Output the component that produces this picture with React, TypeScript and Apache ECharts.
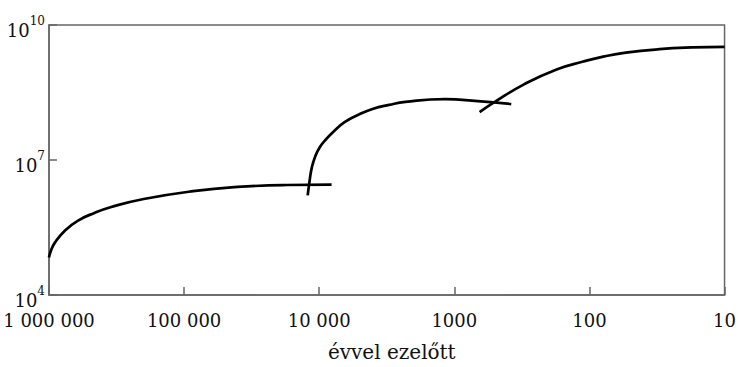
import React, { useEffect, useRef } from "react";
import * as echarts from "echarts";

// years before present, population
const curve1Years = [1000000, 966000, 904000, 764000, 614000, 461000, 346000, 199000, 85700, 40200, 17300, 8100];
const curve1Pop = [6.8e4, 9.8e4, 1.46e5, 2.68e5, 4.45e5, 6.67e5, 9.04e5, 1.36e6, 2.03e6, 2.52e6, 2.78e6, 2.83e6];

const curve2Years = [12170, 11800, 11380, 10740, 9880, 8830, 7670, 6490, 5180, 4030, 3040, 2300, 1170, 672, 379];
const curve2Pop = [1.63e6, 3.32e6, 6.5e6, 1.17e7, 1.95e7, 2.97e7, 4.52e7, 6.92e7, 1.0e8, 1.36e8, 1.68e8, 1.96e8, 2.25e8, 2.03e8, 1.75e8];

const curve3Years = [650, 505, 305, 175, 111, 79, 53.8, 30.3, 17.4, 10];
const curve3Pop = [1.16e8, 1.93e8, 4.8e8, 1.03e9, 1.54e9, 1.98e9, 2.43e9, 2.9e9, 3.17e9, 3.28e9];

const xTickLabels: Record<number, string> = {
  1000000: "1 000 000",
  100000: "100 000",
  10000: "10 000",
  1000: "1000",
  100: "100",
  10: "10",
};
const xAxisTitle = "évvel ezelőtt";

const FONT = "DejaVu Serif";

function pairs(xs: number[], ys: number[]) {
  return xs.map((x, i) => [x, ys[i]]);
}

export default function App() {
  const ref = useRef<HTMLDivElement>(null);
  useEffect(() => {
    const chart = echarts.init(ref.current!, null, { renderer: "svg" });
    const lineStyle = { color: "#000", width: 2.7 };
    const series = [
      pairs(curve1Years, curve1Pop),
      pairs(curve2Years, curve2Pop),
      pairs(curve3Years, curve3Pop),
    ].map((d) => ({
      type: "line",
      data: d,
      smooth: 0.5,
      showSymbol: false,
      symbol: "none",
      lineStyle,
      clip: false,
    }));
    chart.setOption({
      animation: false,
      backgroundColor: "#fff",
      grid: {
        left: 49,
        right: 9,
        top: 25,
        bottom: 69,
        show: true,
        borderColor: "#666",
        borderWidth: 1.5,
        backgroundColor: "transparent",
      },
      xAxis: {
        type: "log",
        logBase: 10,
        min: 10,
        max: 1000000,
        inverse: true,
        name: xAxisTitle,
        nameLocation: "middle",
        nameGap: 47,
        nameTextStyle: { fontFamily: FONT, fontSize: 20, color: "#111", padding: [0, 0, 0, 10] },
        axisLine: { lineStyle: { color: "#666", width: 1.5 } },
        axisTick: { inside: true, length: 8, lineStyle: { color: "#666", width: 1.5 } },
        splitLine: { show: false },
        axisLabel: {
          fontFamily: FONT,
          fontSize: 18,
          color: "#111",
          margin: 16,
          formatter: (v: number) => xTickLabels[Math.round(v)] ?? String(v),
        },
      },
      yAxis: {
        type: "log",
        logBase: 10,
        min: 1e4,
        max: 1e10,
        interval: 3,
        axisLine: { lineStyle: { color: "#666", width: 1.5 } },
        axisTick: { inside: true, length: 8, lineStyle: { color: "#666", width: 1.5 } },
        splitLine: { show: false },
        axisLabel: {
          margin: 4,
          formatter: (v: number) => `{b|10}{s|${Math.round(Math.log10(v))}}`,
          rich: {
            b: { fontFamily: FONT, fontSize: 18, color: "#111", padding: [10, 0, 0, 0] },
            s: { fontFamily: FONT, fontSize: 12, color: "#111", padding: [0, 0, 8, 0] },
          },
        },
      },
      series,
    });
    return () => chart.dispose();
  }, []);
  return (
    <div
      ref={ref}
      style={{ position: "absolute", left: 0, top: 0, width: 739, height: 367 }}
    />
  );
}
